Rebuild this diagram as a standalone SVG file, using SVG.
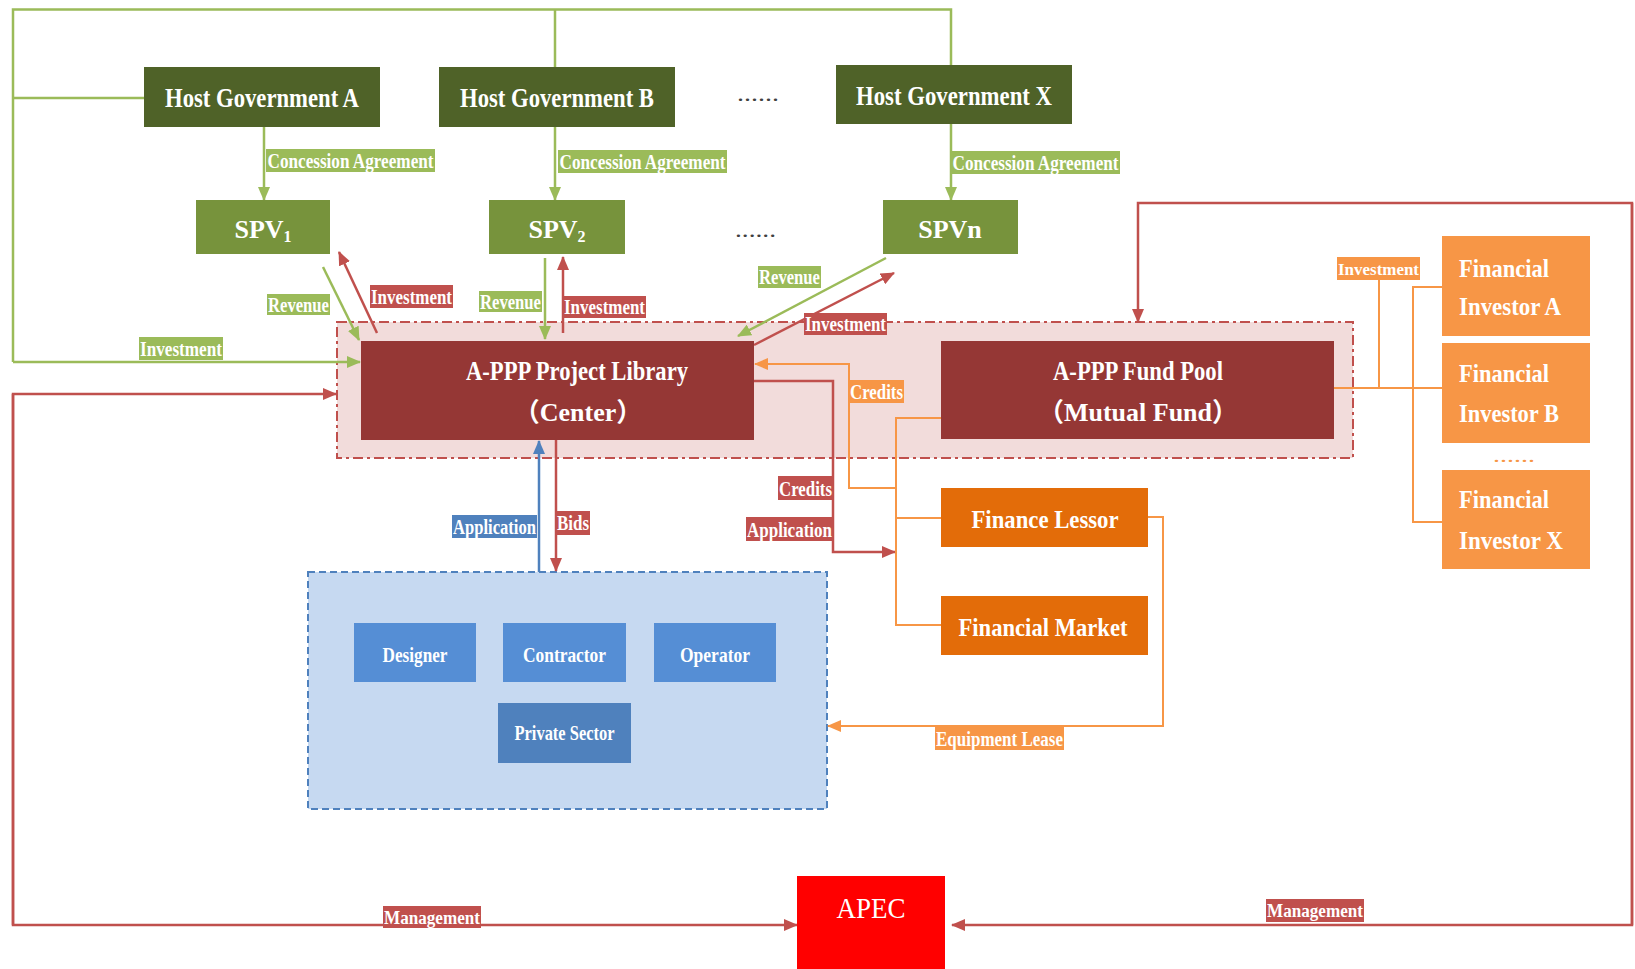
<svg xmlns="http://www.w3.org/2000/svg" width="1635" height="969" viewBox="0 0 1635 969">
<style>
text{font-family:"Liberation Serif","Times New Roman",serif;font-weight:bold;fill:#fff}
.c{text-anchor:middle}
.lg{fill:none;stroke:#9BBB59;stroke-width:2.5}
.lr{fill:none;stroke:#C0504D;stroke-width:2.5}
.lo{fill:none;stroke:#F79646;stroke-width:2}
.lb{fill:none;stroke:#4F81BD;stroke-width:2.5}
.gov{fill:#4F6228}
.spv{fill:#77933C}
.lib{fill:#953735}
.inv{fill:#F79646}
.fin{fill:#E36C09}
.ps{fill:#558ED5}
.t1{font-size:27px}
.lab{font-size:20px}
.dots{fill:#404040;font-weight:normal;font-size:22px}
</style>
<defs>
<marker id="ag" markerUnits="userSpaceOnUse" markerWidth="14" markerHeight="12" refX="13" refY="6" orient="auto"><path d="M0,0 L14,6 L0,12 z" fill="#9BBB59"/></marker>
<marker id="ar" markerUnits="userSpaceOnUse" markerWidth="14" markerHeight="12" refX="13" refY="6" orient="auto"><path d="M0,0 L14,6 L0,12 z" fill="#C0504D"/></marker>
<marker id="ab" markerUnits="userSpaceOnUse" markerWidth="14" markerHeight="12" refX="13" refY="6" orient="auto"><path d="M0,0 L14,6 L0,12 z" fill="#4F81BD"/></marker>
<marker id="ao" markerUnits="userSpaceOnUse" markerWidth="14" markerHeight="12" refX="13" refY="6" orient="auto"><path d="M0,0 L14,6 L0,12 z" fill="#F79646"/></marker>
</defs>
<rect width="1635" height="969" fill="#fff"/>

<g id="center-region">
<rect x="337" y="322" width="1016" height="136" fill="#F2DCDB" stroke="#C0504D" stroke-width="2" stroke-dasharray="10,4,3,4"/>
</g>
<g id="private-region">
<rect x="308" y="572" width="519" height="237" fill="#C6D9F1" stroke="#4F81BD" stroke-width="2" stroke-dasharray="7,4"/>
</g>

<g id="connectors">
<path class="lg" d="M13,362 V9.5 H951 V65"/>
<path class="lg" d="M555,9.5 V67"/>
<path class="lg" d="M13,98 H144"/>
<path class="lg" d="M13,362 H360" marker-end="url(#ag)"/>
<path class="lg" d="M264,127 V200" marker-end="url(#ag)"/>
<path class="lg" d="M555,127 V200" marker-end="url(#ag)"/>
<path class="lg" d="M951,124 V200" marker-end="url(#ag)"/>
<path class="lg" d="M323,267 L359,340" marker-end="url(#ag)"/>
<path class="lg" d="M545,258 V339" marker-end="url(#ag)"/>
<path class="lg" d="M886,258 L738,336" marker-end="url(#ag)"/>

<path class="lr" d="M377,333 L339,252" marker-end="url(#ar)"/>
<path class="lr" d="M563,333 V257" marker-end="url(#ar)"/>
<path class="lr" d="M754,345 L894,273" marker-end="url(#ar)"/>
<path class="lr" d="M13,925 V394 H336" marker-end="url(#ar)"/>
<path class="lr" d="M13,394 V925 H797" marker-end="url(#ar)"/>
<path class="lr" d="M1632,925 V203 H1138 V322" marker-end="url(#ar)"/>
<path class="lr" d="M1632,203 V925 H952" marker-end="url(#ar)"/>
<path class="lr" d="M754,381 H833 V552 H895" marker-end="url(#ar)"/>
<path class="lr" d="M556,440 V571" marker-end="url(#ar)"/>

<path class="lb" d="M539,572 V441" marker-end="url(#ab)"/>

<path class="lo" d="M941,418 H896 V625 H941"/>
<path class="lo" d="M896,518 H941"/>
<path class="lo" d="M896,488 H849 V364 H755" marker-end="url(#ao)"/>
<path class="lo" d="M1148,517 H1163 V726 H828" marker-end="url(#ao)"/>
<path class="lo" d="M1334,388 H1442"/>
<path class="lo" d="M1379,280 V388"/>
<path class="lo" d="M1442,287 H1413 V522 H1442"/>

<rect x="266" y="149" width="169" height="23" fill="#9BBB59"/><text class="c" x="350.5" y="168" font-size="21" textLength="166" lengthAdjust="spacingAndGlyphs">Concession Agreement</text>
<rect x="558" y="150" width="169" height="23" fill="#9BBB59"/><text class="c" x="642.5" y="169" font-size="21" textLength="166" lengthAdjust="spacingAndGlyphs">Concession Agreement</text>
<rect x="951" y="151" width="169" height="23" fill="#9BBB59"/><text class="c" x="1035.5" y="170" font-size="21" textLength="166" lengthAdjust="spacingAndGlyphs">Concession Agreement</text>

<rect x="267" y="294" width="63" height="21" fill="#9BBB59"/><text class="c lab" x="298.5" y="312" textLength="61" lengthAdjust="spacingAndGlyphs">Revenue</text>
<rect x="370" y="285" width="83" height="23" fill="#C0504D"/><text class="c lab" x="411.5" y="304" textLength="81" lengthAdjust="spacingAndGlyphs">Investment</text>
<rect x="479" y="291" width="63" height="21" fill="#9BBB59"/><text class="c lab" x="510.5" y="309" textLength="61" lengthAdjust="spacingAndGlyphs">Revenue</text>
<rect x="563" y="296" width="83" height="22" fill="#C0504D"/><text class="c lab" x="604.5" y="314" textLength="81" lengthAdjust="spacingAndGlyphs">Investment</text>
<rect x="758" y="266" width="63" height="22" fill="#9BBB59"/><text class="c lab" x="789.5" y="284" textLength="61" lengthAdjust="spacingAndGlyphs">Revenue</text>
<rect x="804" y="313" width="83" height="22" fill="#C0504D"/><text class="c lab" x="845.5" y="331" textLength="81" lengthAdjust="spacingAndGlyphs">Investment</text>
<rect x="139" y="337" width="84" height="23" fill="#9BBB59"/><text class="c lab" x="181" y="356" textLength="82" lengthAdjust="spacingAndGlyphs">Investment</text>

<rect x="849" y="380" width="55" height="23" fill="#F79646"/><text class="c lab" x="876.5" y="399" textLength="53" lengthAdjust="spacingAndGlyphs">Credits</text>
<rect x="778" y="476" width="55" height="24" fill="#C0504D"/><text class="c lab" x="805.5" y="496" textLength="53" lengthAdjust="spacingAndGlyphs">Credits</text>
<rect x="746" y="517" width="87" height="24" fill="#C0504D"/><text class="c lab" x="789.5" y="537" textLength="85" lengthAdjust="spacingAndGlyphs">Application</text>
<rect x="452" y="515" width="85" height="23" fill="#4F81BD"/><text class="c lab" x="494.5" y="534" textLength="83" lengthAdjust="spacingAndGlyphs">Application</text>
<rect x="556" y="511" width="34" height="24" fill="#C0504D"/><text class="c lab" x="573" y="530" textLength="32" lengthAdjust="spacingAndGlyphs">Bids</text>
<rect x="935" y="726" width="129" height="24" fill="#F79646"/><text class="c lab" x="999.5" y="746" textLength="127" lengthAdjust="spacingAndGlyphs">Equipment Lease</text>
<rect x="1337" y="257" width="83" height="23" fill="#F79646"/><text class="c" x="1378.5" y="275" font-size="17" textLength="81" lengthAdjust="spacingAndGlyphs">Investment</text>
<rect x="383" y="906" width="98" height="22" fill="#C0504D"/><text class="c" x="432" y="924" font-size="18" textLength="96" lengthAdjust="spacingAndGlyphs">Management</text>
<rect x="1266" y="899" width="98" height="23" fill="#C0504D"/><text class="c" x="1315" y="917" font-size="18" textLength="96" lengthAdjust="spacingAndGlyphs">Management</text>
</g>

<g id="host-gov-a"><rect class="gov" x="144" y="67" width="236" height="60"/><text class="c t1" x="262" y="107" textLength="194" lengthAdjust="spacingAndGlyphs">Host Government A</text></g>
<g id="host-gov-b"><rect class="gov" x="439" y="67" width="236" height="60"/><text class="c t1" x="557" y="107" textLength="194" lengthAdjust="spacingAndGlyphs">Host Government B</text></g>
<g id="host-gov-x"><rect class="gov" x="836" y="65" width="236" height="59"/><text class="c t1" x="954" y="105" textLength="196" lengthAdjust="spacingAndGlyphs">Host Government X</text></g>
<g id="dots-gov"><text class="dots" x="737" y="101" textLength="42" lengthAdjust="spacingAndGlyphs">......</text></g>

<g id="spv1"><rect class="spv" x="196" y="200" width="134" height="54"/><text class="c" x="263" y="238" font-size="26">SPV<tspan font-size="16" dy="4">1</tspan></text></g>
<g id="spv2"><rect class="spv" x="489" y="200" width="136" height="54"/><text class="c" x="557" y="238" font-size="26">SPV<tspan font-size="16" dy="4">2</tspan></text></g>
<g id="dots-spv"><text class="dots" x="735" y="237" textLength="41" lengthAdjust="spacingAndGlyphs">......</text></g>
<g id="spvn"><rect class="spv" x="883" y="200" width="135" height="54"/><text class="c" x="950" y="238" font-size="26">SPVn</text></g>

<g id="project-library"><rect class="lib" x="361" y="341" width="393" height="99"/>
<text class="c" x="577" y="380" font-size="27" textLength="222" lengthAdjust="spacingAndGlyphs">A-PPP Project Library</text>
<text class="c" x="578" y="421" font-size="26" style="font-family:'Liberation Serif','Noto Sans CJK SC',serif">（Center）</text></g>

<g id="fund-pool"><rect class="lib" x="941" y="341" width="393" height="98"/>
<text class="c" x="1138" y="380" font-size="27" textLength="170" lengthAdjust="spacingAndGlyphs">A-PPP Fund Pool</text>
<text class="c" x="1138" y="421" font-size="26" style="font-family:'Liberation Serif','Noto Sans CJK SC',serif">（Mutual Fund）</text></g>

<g id="finance-lessor"><rect class="fin" x="941" y="488" width="207" height="59"/><text class="c" x="1045" y="528" font-size="26" textLength="147" lengthAdjust="spacingAndGlyphs">Finance Lessor</text></g>
<g id="financial-market"><rect class="fin" x="941" y="596" width="207" height="59"/><text class="c" x="1043" y="636" font-size="26" textLength="169" lengthAdjust="spacingAndGlyphs">Financial Market</text></g>

<g id="investor-a"><rect class="inv" x="1442" y="236" width="148" height="100"/><text x="1459" y="277" font-size="26" textLength="90" lengthAdjust="spacingAndGlyphs">Financial</text><text x="1459" y="315" font-size="26" textLength="102" lengthAdjust="spacingAndGlyphs">Investor A</text></g>
<g id="investor-b"><rect class="inv" x="1442" y="343" width="148" height="100"/><text x="1459" y="382" font-size="26" textLength="90" lengthAdjust="spacingAndGlyphs">Financial</text><text x="1459" y="422" font-size="26" textLength="100" lengthAdjust="spacingAndGlyphs">Investor B</text></g>
<g id="dots-inv"><text x="1493" y="462" font-size="18" style="fill:#F79646;font-weight:normal" textLength="42" lengthAdjust="spacingAndGlyphs">......</text></g>
<g id="investor-x"><rect class="inv" x="1442" y="470" width="148" height="99"/><text x="1459" y="508" font-size="26" textLength="90" lengthAdjust="spacingAndGlyphs">Financial</text><text x="1459" y="549" font-size="26" textLength="104" lengthAdjust="spacingAndGlyphs">Investor X</text></g>

<g id="designer"><rect class="ps" x="354" y="623" width="122" height="59"/><text class="c" x="415" y="662" font-size="21" textLength="65" lengthAdjust="spacingAndGlyphs">Designer</text></g>
<g id="contractor"><rect class="ps" x="503" y="623" width="123" height="59"/><text class="c" x="564.5" y="662" font-size="21" textLength="83" lengthAdjust="spacingAndGlyphs">Contractor</text></g>
<g id="operator"><rect class="ps" x="654" y="623" width="122" height="59"/><text class="c" x="715" y="662" font-size="21" textLength="70" lengthAdjust="spacingAndGlyphs">Operator</text></g>
<g id="private-sector"><rect x="498" y="703" width="133" height="60" fill="#4F81BD"/><text class="c" x="564.5" y="740" font-size="21" textLength="100" lengthAdjust="spacingAndGlyphs">Private Sector</text></g>

<g id="apec"><rect x="797" y="876" width="148" height="93" fill="#FF0000"/><text class="c" x="871" y="918" font-size="30" style="font-weight:normal" textLength="69" lengthAdjust="spacingAndGlyphs">APEC</text></g>
</svg>
